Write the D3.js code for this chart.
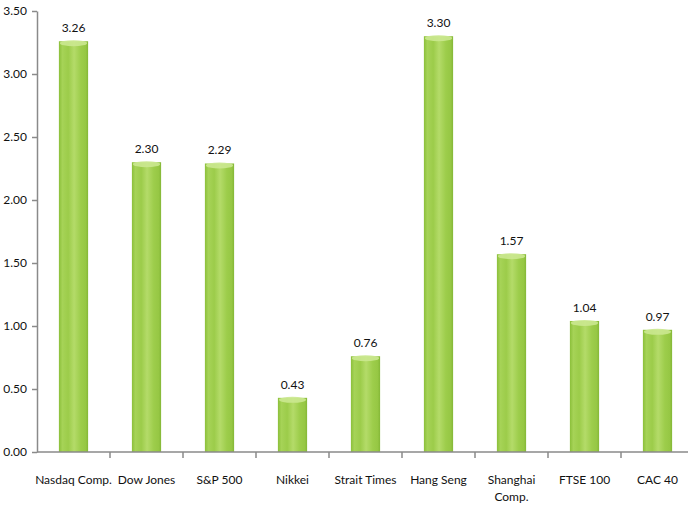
<!DOCTYPE html>
<html><head><meta charset="utf-8">
<script src="https://cdn.jsdelivr.net/npm/d3@7"></script>
<style>body{margin:0;background:#fff}svg{display:block}</style>
</head><body>
<svg id="c" width="688" height="510"></svg>
<script>
const categories = ["Nasdaq Comp.","Dow Jones","S&P 500","Nikkei","Strait Times","Hang Seng","Shanghai Comp.","FTSE 100","CAC 40"];
const values = [3.26,2.30,2.29,0.43,0.76,3.30,1.57,1.04,0.97];
const yTicks = [0,0.5,1,1.5,2,2.5,3,3.5];

const svg = d3.select("#c");
const font = "Lato,'DejaVu Sans Condensed',sans-serif";
const fs = "12px";
const L=37, R=694, T=11, B=452;
const x = d3.scaleBand().domain(categories).range([L,R]).paddingInner(0.6).paddingOuter(0.3);
const y = d3.scaleLinear().domain([0,3.5]).range([B,T]);

const defs = svg.append("defs");
const g = defs.append("linearGradient").attr("id","bar").attr("x1","0").attr("x2","1").attr("y1","0").attr("y2","0");
[[0,"#8BBF3A"],[0.12,"#A6D357"],[0.32,"#9CCC4A"],[0.52,"#B4DB69"],[0.75,"#9DCD4B"],[0.92,"#96C744"],[1,"#84B737"]]
  .forEach(([o,c])=>g.append("stop").attr("offset",o).attr("stop-color",c));

const bars = svg.append("g");
bars.selectAll("rect").data(values).join("rect")
  .attr("x",(d,i)=>x(categories[i]))
  .attr("y",d=>y(d))
  .attr("width",x.bandwidth())
  .attr("height",d=>B-y(d))
  .attr("fill","url(#bar)");
bars.selectAll("ellipse").data(values).join("ellipse")
  .attr("cx",(d,i)=>x(categories[i])+x.bandwidth()/2)
  .attr("cy",d=>y(d)+2)
  .attr("rx",x.bandwidth()/2-1)
  .attr("ry",3)
  .attr("fill","#CBE890").attr("opacity",0.9);

svg.append("g").selectAll("text").data(values).join("text")
  .attr("x",(d,i)=>x(categories[i])+x.bandwidth()/2)
  .attr("y",d=>y(d)-9)
  .attr("text-anchor","middle")
  .style("font-family",font).style("font-size",fs).attr("fill","#111")
  .text(d=>d3.format(".2f")(d));

// y axis
const ya = svg.append("g").attr("transform",`translate(${L},0)`)
  .call(d3.axisLeft(y).tickValues(yTicks).tickFormat(d3.format(".2f")).tickSize(5).tickSizeOuter(0));
ya.select(".domain").attr("stroke","#8a8a8a").attr("stroke-width",1.5);
ya.selectAll(".tick line").attr("stroke","#8a8a8a").attr("stroke-width",1.5);
ya.selectAll("text").style("font-family",font).style("font-size",fs).attr("fill","#111").attr("x",-10);

// x axis
const xa = svg.append("g").attr("transform",`translate(0,${B})`);
xa.append("line").attr("x1",L).attr("x2",R).attr("stroke","#8a8a8a").attr("stroke-width",1.5);
const bounds = categories.map((c,i)=>L + x.step()*(i+1));
xa.selectAll(".tk").data(bounds).join("line").attr("class","tk")
  .attr("x1",d=>d).attr("x2",d=>d).attr("y1",0).attr("y2",6)
  .attr("stroke","#8a8a8a").attr("stroke-width",1.5);
xa.selectAll(".lab").data(categories).join("text").attr("class","lab")
  .attr("text-anchor","middle")
  .style("font-family",font).style("font-size",fs).attr("fill","#111")
  .each(function(c){
    const t=d3.select(this); const cx = x(c)+x.bandwidth()/2;
    const parts = c==="Shanghai Comp." ? ["Shanghai","Comp."] : [c];
    parts.forEach((p,k)=>t.append("tspan").attr("x",cx).attr("y",32+k*17).text(p));
  });
</script>
</body></html>
